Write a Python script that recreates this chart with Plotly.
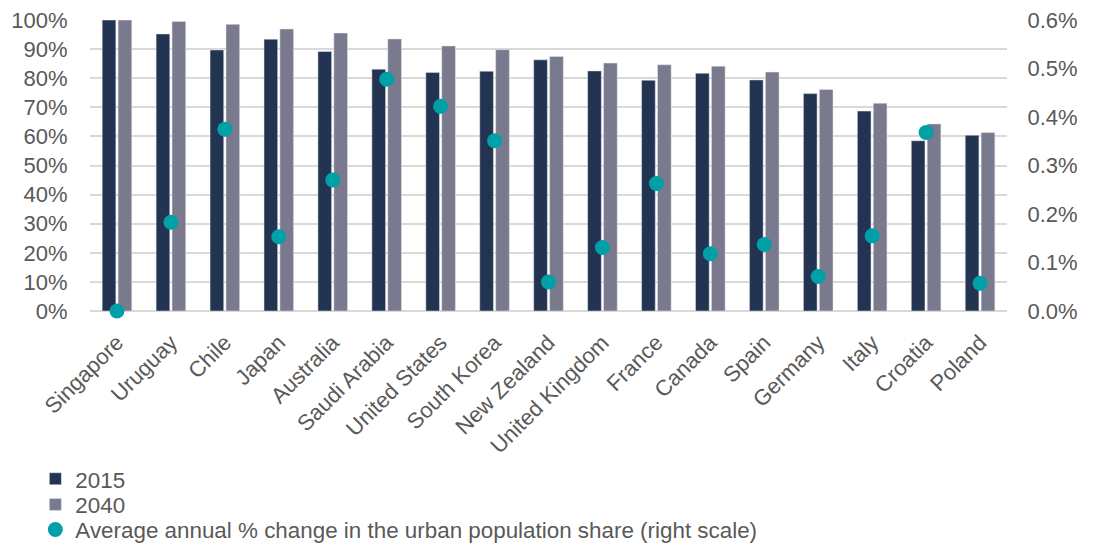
import plotly.graph_objects as go

countries = ["Singapore", "Uruguay", "Chile", "Japan", "Australia", "Saudi Arabia",
             "United States", "South Korea", "New Zealand", "United Kingdom", "France",
             "Canada", "Spain", "Germany", "Italy", "Croatia", "Poland"]
share_2015 = [100, 95.2, 89.7, 93.4, 89.2, 83.1, 82.0, 82.4, 86.3, 82.5, 79.3,
              81.7, 79.4, 74.7, 68.7, 58.5, 60.4]
share_2040 = [100, 99.5, 98.5, 96.9, 95.5, 93.5, 91.1, 89.8, 87.5, 85.2, 84.6,
              84.1, 82.1, 76.1, 71.4, 64.3, 61.3]
annual_change = [0.0, 0.183, 0.375, 0.153, 0.270, 0.478, 0.422, 0.351, 0.060, 0.131,
                 0.263, 0.118, 0.137, 0.071, 0.155, 0.368, 0.057]

text_color = "#595959"
font_family = "Liberation Sans, Arial, sans-serif"

fig = go.Figure()

fig.add_trace(go.Bar(x=countries, y=share_2015, name="2015", legend="legend",
                     marker=dict(color="#233452", line=dict(color="#e6e6ea", width=0.5))))
fig.add_trace(go.Bar(x=countries, y=share_2040, name="2040", legend="legend2",
                     marker=dict(color="#7a7a8e", line=dict(color="#e6e6ea", width=0.5))))
fig.add_trace(go.Scatter(x=countries, y=annual_change, yaxis="y2", mode="markers",
                         name="Average annual % change in the urban population share (right scale)",
                         legend="legend3",
                         marker=dict(color="#00A0A8", size=15), cliponaxis=False))

# one legend per item so the rows can sit closer than plotly's default spacing
def legend_at(y):
    return dict(orientation="v", xref="container", yref="container",
                x=0.025, y=y, xanchor="left", yanchor="middle",
                bgcolor="rgba(0,0,0,0)",
                font=dict(size=22.4, color=text_color), itemwidth=30)

# page body adds an 8px offset, so margins are shifted to compensate
fig.update_layout(
    width=1094, height=546,
    margin=dict(l=82, r=95, t=12, b=243, autoexpand=False),
    plot_bgcolor="white", paper_bgcolor="white",
    font=dict(family=font_family, size=22, color=text_color),
    barmode="group", bargap=0.41, bargroupgap=0.14,
    xaxis=dict(tickangle=-45, tickfont=dict(size=22, color=text_color),
               range=[-0.5, len(countries) - 0.5],
               showgrid=False, showline=False,
               ticks="outside", ticklen=9, tickcolor="rgba(0,0,0,0)"),
    yaxis=dict(range=[0, 100], dtick=10, ticksuffix="%", showgrid=True,
               gridcolor="#d9d9d9", gridwidth=1.5, zeroline=True, zerolinecolor="#d9d9d9",
               zerolinewidth=1.5, ticks="outside", ticklen=17, tickcolor="rgba(0,0,0,0)",
               ticklabeloverflow="allow",
               tickfont=dict(size=22, color=text_color)),
    yaxis2=dict(range=[0, 0.6], dtick=0.1, tickformat=".1f", ticksuffix="%",
                overlaying="y", side="right", showgrid=False, zeroline=False,
                ticks="outside", ticklen=15, tickcolor="rgba(0,0,0,0)",
                ticklabeloverflow="allow",
                tickfont=dict(size=22, color=text_color)),
    legend=legend_at(0.137),
    legend2=legend_at(0.090),
    legend3=legend_at(0.044),
    showlegend=True,
)

fig.write_html("out.html")
